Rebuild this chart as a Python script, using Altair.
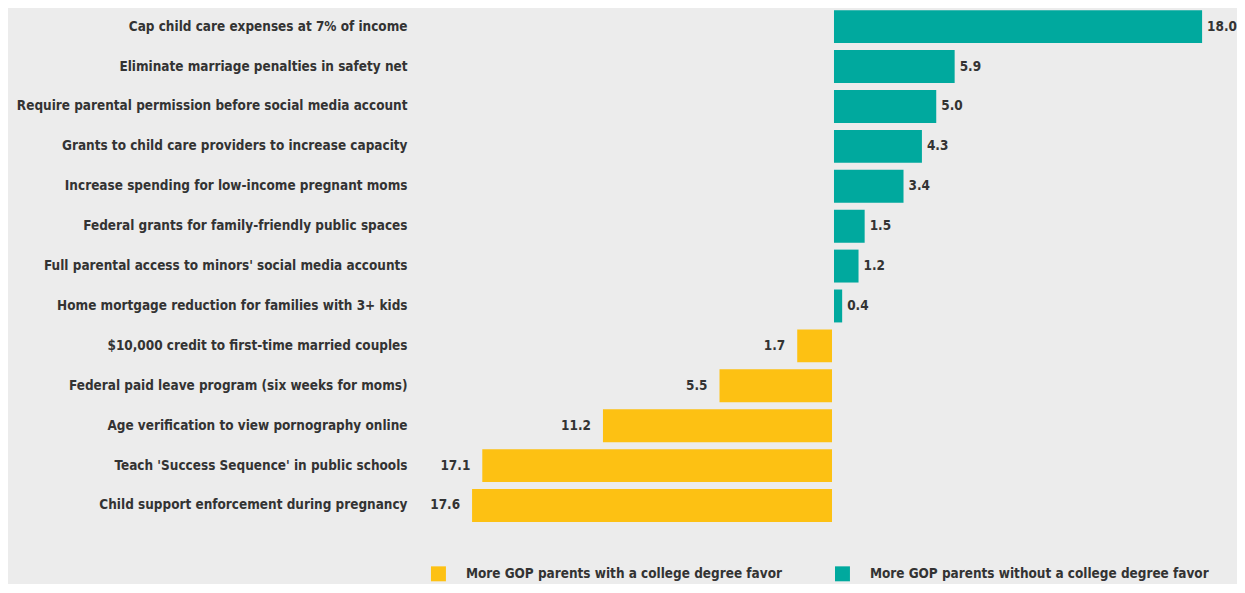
import altair as alt
import pandas as pd

policies = [
    "Cap child care expenses at 7% of income",
    "Eliminate marriage penalties in safety net",
    "Require parental permission before social media account",
    "Grants to child care providers to increase capacity",
    "Increase spending for low-income pregnant moms",
    "Federal grants for family-friendly public spaces",
    "Full parental access to minors' social media accounts",
    "Home mortgage reduction for families with 3+ kids",
    "$10,000 credit to first-time married couples",
    "Federal paid leave program (six weeks for moms)",
    "Age verification to view pornography online",
    "Teach 'Success Sequence' in public schools",
    "Child support enforcement during pregnancy",
]
values = [18.0, 5.9, 5.0, 4.3, 3.4, 1.5, 1.2, 0.4, -1.7, -5.5, -11.2, -17.1, -17.6]
groups = ["More GOP parents with a college degree favor",
          "More GOP parents without a college degree favor"]
colors = ["#fdc113", "#00a99e"]

df = pd.DataFrame({
    "policy": policies,
    "value": values,
    "label": [f"{abs(v):.1f}" for v in values],
    "group": [groups[1] if v > 0 else groups[0] for v in values],
})

FONT = "DejaVu Sans Condensed, DejaVu Sans, sans-serif"
TXT = "#333333"
FS = 13.5

y_enc = alt.Y("policy:N", sort=policies, title=None,
              scale=alt.Scale(paddingInner=0.175, paddingOuter=0.0875),
              axis=alt.Axis(domain=False, ticks=False, labelPadding=17,
                            labelFont=FONT, labelFontSize=FS, labelFontWeight="bold",
                            labelColor=TXT, labelLimit=500))
x_enc = alt.X("value:Q", title=None, scale=alt.Scale(domain=[-20, 19.024], nice=False),
              axis=None)
color_enc = alt.Color("group:N", scale=alt.Scale(domain=groups, range=colors),
                      legend=alt.Legend(title=None, orient="none", legendX=7, legendY=561,
                                        direction="horizontal", symbolType="square",
                                        symbolSize=225, symbolStrokeWidth=0,
                                        symbolOpacity=1,
                                        labelFont=FONT, labelFontSize=FS,
                                        labelFontWeight="bold", labelColor=TXT,
                                        labelOffset=20, columnPadding=52,
                                        labelLimit=600))

base = alt.Chart(df)

pos_bars = base.transform_filter("datum.value > 0").mark_bar(xOffset=1, x2Offset=1).encode(
    x=x_enc, x2=alt.datum(0), y=y_enc, color=color_enc)
neg_bars = base.transform_filter("datum.value < 0").mark_bar(xOffset=-1, x2Offset=-1).encode(
    x=x_enc, x2=alt.datum(0), y=y_enc, color=color_enc)

pos_text = base.transform_filter("datum.value > 0").mark_text(
    align="left", baseline="middle", dx=6, font=FONT, fontSize=FS,
    fontWeight="bold", color=TXT
).encode(x="value:Q", y=alt.Y("policy:N", sort=policies), text="label:N")

neg_text = base.transform_filter("datum.value < 0").mark_text(
    align="right", baseline="middle", dx=-13, font=FONT, fontSize=FS,
    fontWeight="bold", color=TXT
).encode(x="value:Q", y=alt.Y("policy:N", sort=policies), text="label:N")

chart = alt.layer(pos_bars, neg_bars, pos_text, neg_text).properties(
    width=800, height=520,
    background="#ececec",
    padding={"left": 417, "top": -2, "right": 15, "bottom": 58},
    autosize=alt.AutoSizeParams(type="none"),
).configure_view(stroke=None)

chart.save("out.html", embed_options={"renderer": "svg", "actions": False})
